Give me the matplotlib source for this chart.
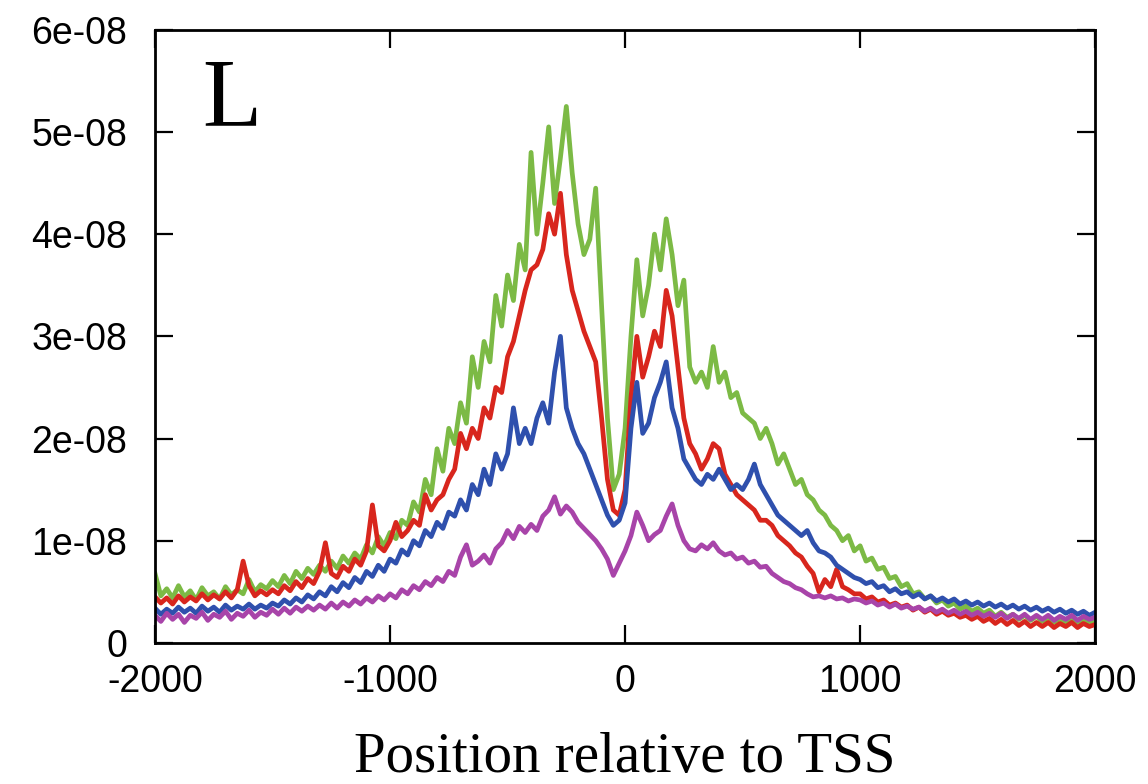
import numpy as np
import matplotlib
matplotlib.use("Agg")
import matplotlib.pyplot as plt

# positions relative to TSS, every 25 bp
pos = np.arange(-2000, 2001, 25)

# signal values, in units of 1e-9
green = [
    6.8, 4.6, 5.3, 4.4, 5.6, 4.5, 5.1, 4.2, 5.4, 4.6, 5.0, 4.3, 5.5, 4.7, 5.2, 4.8, 6.2, 5.0, 5.7, 5.3,
    6.1, 5.5, 6.6, 5.8, 7.0, 6.3, 7.3, 6.7, 7.6, 7.0, 8.0, 7.3, 8.5, 7.8, 8.8, 8.2, 9.6, 8.8, 10.4, 9.5,
    10.8, 10.2, 12.0, 11.5, 13.8, 12.8, 16.0, 14.5, 19.0, 16.8, 21.0, 19.5, 23.5, 21.5, 28.0, 25.0, 29.5, 27.5, 34.0, 31.0,
    36.0, 33.5, 39.0, 36.5, 48.0, 40.0, 45.0, 50.5, 43.0, 47.5, 52.5, 46.0, 41.0, 38.0, 39.5, 44.5, 33.0, 22.0, 15.0, 16.5,
    21.0, 30.0, 37.5, 32.0, 35.0, 40.0, 36.5, 41.5, 38.0, 33.0, 35.5, 27.0, 25.5, 26.5, 25.0, 29.0, 25.5, 26.5, 24.0, 24.5,
    22.5, 22.0, 21.5, 20.0, 21.0, 19.5, 17.5, 18.5, 17.0, 15.5, 16.0, 14.5, 14.0, 13.0, 12.5, 11.5, 11.0, 10.0, 10.5, 9.0,
    9.5, 8.0, 8.3, 7.2, 7.4, 6.3, 6.5, 5.5, 5.8, 4.8, 5.0, 4.3, 4.6, 3.9, 4.2, 3.6, 3.9, 3.3, 3.6, 3.1,
    3.4, 2.9, 3.2, 2.6, 3.0, 2.5, 2.8, 2.3, 2.7, 2.2, 2.6, 2.1, 2.5, 2.0, 2.4, 1.9, 2.3, 1.8, 2.4, 2.0, 2.2,
]
red = [
    4.5, 3.9, 4.4, 3.8, 4.6, 4.0, 4.5, 4.1, 4.8, 4.2, 4.7, 4.3, 5.0, 4.4, 5.2, 8.0, 5.6, 4.6, 5.1, 4.7,
    5.2, 4.8, 5.6, 5.1, 6.0, 5.4, 6.3, 5.8, 7.0, 9.8, 6.8, 6.4, 7.5, 7.0, 8.2, 7.6, 9.0, 13.5, 9.5, 9.0,
    10.0, 11.8, 10.4, 11.0, 12.0, 11.5, 14.5, 13.0, 14.0, 14.5, 16.0, 17.0, 20.5, 19.0, 21.0, 20.0, 23.0, 22.0, 25.0, 24.5,
    28.0, 29.5, 32.0, 34.5, 36.5, 37.0, 38.5, 42.0, 40.0, 44.0, 38.0, 34.5, 32.5, 30.5, 29.0, 27.5, 22.0, 16.0, 13.0, 12.5,
    15.0, 24.0, 30.0, 26.0, 28.0, 30.5, 29.0, 34.5, 32.0, 27.0, 22.0, 19.5, 18.5, 17.0, 18.0, 19.5, 19.0, 16.5, 15.5, 14.5,
    14.0, 13.5, 13.0, 12.0, 12.0, 11.5, 10.5, 10.0, 9.5, 8.8, 8.4, 7.5, 6.8, 5.0, 6.2, 5.5, 7.2, 5.5, 5.2, 4.8,
    4.8, 4.3, 4.5, 4.0, 4.2, 3.7, 3.9, 3.5, 3.7, 3.2, 3.5, 3.0, 3.3, 2.8, 3.1, 2.7, 2.9, 2.5, 2.7, 2.3,
    2.6, 2.1, 2.4, 1.9, 2.3, 1.8, 2.2, 1.7, 2.1, 1.6, 2.0, 1.6, 2.0, 1.5, 1.9, 1.6, 2.0, 1.5, 1.9, 1.6, 1.8,
]
blue = [
    3.4, 2.8, 3.3, 2.9, 3.5, 3.0, 3.4, 2.9, 3.6, 3.1, 3.5, 3.0, 3.7, 3.2, 3.6, 3.3, 3.8, 3.3, 3.7, 3.4,
    3.9, 3.6, 4.2, 3.8, 4.4, 4.0, 4.7, 4.3, 5.0, 4.6, 5.5, 5.0, 5.9, 5.4, 6.4, 5.9, 7.0, 6.5, 7.6, 7.0,
    8.2, 7.8, 9.1, 8.6, 10.0, 9.5, 11.0, 10.4, 11.8, 11.2, 12.8, 12.4, 14.0, 13.0, 15.5, 14.5, 17.0, 15.5, 18.5, 17.0,
    18.5, 23.0, 19.5, 21.0, 19.5, 22.0, 23.5, 21.5, 26.5, 30.0, 23.0, 21.0, 19.5, 18.5, 17.0, 15.5, 14.0, 12.5, 11.5, 12.0,
    13.7, 21.0, 25.5, 20.5, 21.5, 24.0, 25.5, 27.5, 23.0, 21.0, 18.0, 17.0, 16.0, 15.5, 16.5, 16.0, 17.0, 16.0, 15.0, 15.5,
    15.0, 16.0, 17.5, 15.5, 14.5, 13.5, 12.5, 12.0, 11.5, 11.0, 10.5, 11.0, 9.8, 9.0, 8.8, 8.4, 7.6, 7.2, 6.8, 6.4,
    6.2, 5.8, 6.0, 5.4, 5.6, 5.0, 5.3, 4.8, 5.0, 4.5, 4.8, 4.3, 4.6, 4.1, 4.4, 4.0, 4.3, 3.8, 4.1, 3.7,
    4.0, 3.6, 3.9, 3.5, 3.8, 3.4, 3.7, 3.3, 3.6, 3.2, 3.5, 3.1, 3.4, 3.0, 3.3, 2.9, 3.2, 2.8, 3.1, 2.7, 3.0,
]
purple = [
    2.7, 2.1, 2.9, 2.3, 2.8, 2.0, 2.7, 2.4, 3.0, 2.2, 2.8, 2.5, 3.1, 2.3, 2.9, 2.6, 3.2, 2.5, 3.0, 2.7,
    3.3, 2.8, 3.4, 2.9, 3.5, 3.1, 3.6, 3.2, 3.7, 3.3, 3.9, 3.4, 4.0, 3.6, 4.2, 3.8, 4.4, 4.0, 4.6, 4.2,
    4.8, 4.4, 5.2, 4.8, 5.6, 5.2, 6.0, 5.6, 6.4, 6.0, 7.0, 6.6, 8.4, 9.6, 7.6, 8.0, 8.6, 7.8, 9.2, 9.8,
    11.0, 10.2, 11.4, 10.8, 11.6, 11.0, 12.4, 13.0, 14.3, 12.6, 13.4, 12.8, 11.8, 11.2, 10.6, 10.0, 9.2, 8.2, 6.6, 7.8,
    9.0, 10.5, 12.8, 11.5, 10.0, 10.6, 11.0, 12.4, 13.6, 11.5, 10.0, 9.2, 9.0, 9.6, 9.2, 9.8, 9.0, 8.6, 8.8, 8.2,
    8.4, 7.8, 8.0, 7.4, 7.5, 6.8, 6.4, 6.0, 5.8, 5.4, 5.2, 4.8, 4.5, 4.6, 4.4, 4.6, 4.3, 4.4, 4.1, 4.3,
    4.2, 3.9, 4.1, 3.7, 3.9, 3.5, 3.8, 3.4, 3.6, 3.3, 3.5, 3.1, 3.4, 3.0, 3.3, 2.9, 3.2, 2.8, 3.1, 2.7,
    3.0, 2.6, 2.9, 2.5, 2.9, 2.4, 2.8, 2.4, 2.8, 2.3, 2.7, 2.3, 2.7, 2.2, 2.6, 2.3, 2.7, 2.2, 2.6, 2.3, 2.5,
]

series = [
    (green, '#7cba45'),
    (red, '#d8261d'),
    (blue, '#2f50ad'),
    (purple, '#a844a9'),
]

yticks = [0, 1e-8, 2e-8, 3e-8, 4e-8, 5e-8, 6e-8]
ytick_labels = ['0', '1e-08', '2e-08', '3e-08', '4e-08', '5e-08', '6e-08']
xticks = [-2000, -1000, 0, 1000, 2000]

fig = plt.figure(figsize=(11.48, 7.84), dpi=100)
ax = fig.add_axes([0.135, 0.18, 0.819, 0.782])

for vals, col in series:
    ax.plot(pos, np.array(vals) * 1e-9, color=col, linewidth=3.4)

ax.set_xlim(-2000, 2000)
ax.set_ylim(0, 6e-8)
ax.set_xticks(xticks)
ax.set_xticklabels([str(t) for t in xticks])
ax.set_yticks(yticks)
ax.set_yticklabels(ytick_labels)

for s in ax.spines.values():
    s.set_linewidth(2.0)
ax.tick_params(direction='in', length=13, width=1.6, top=True, right=True,
               labelsize=27)
ax.tick_params(axis='y', pad=20)
ax.tick_params(axis='x', pad=15)
for lab in ax.get_xticklabels() + ax.get_yticklabels():
    lab.set_family('Liberation Sans')

ax.set_xlabel('Position relative to TSS', family='Liberation Serif',
              fontsize=41, labelpad=23)
ax.text(0.05, 0.845, 'L', transform=ax.transAxes, family='Liberation Serif',
        fontsize=70, va='baseline', ha='left')

fig.savefig('out.png', dpi=100)
